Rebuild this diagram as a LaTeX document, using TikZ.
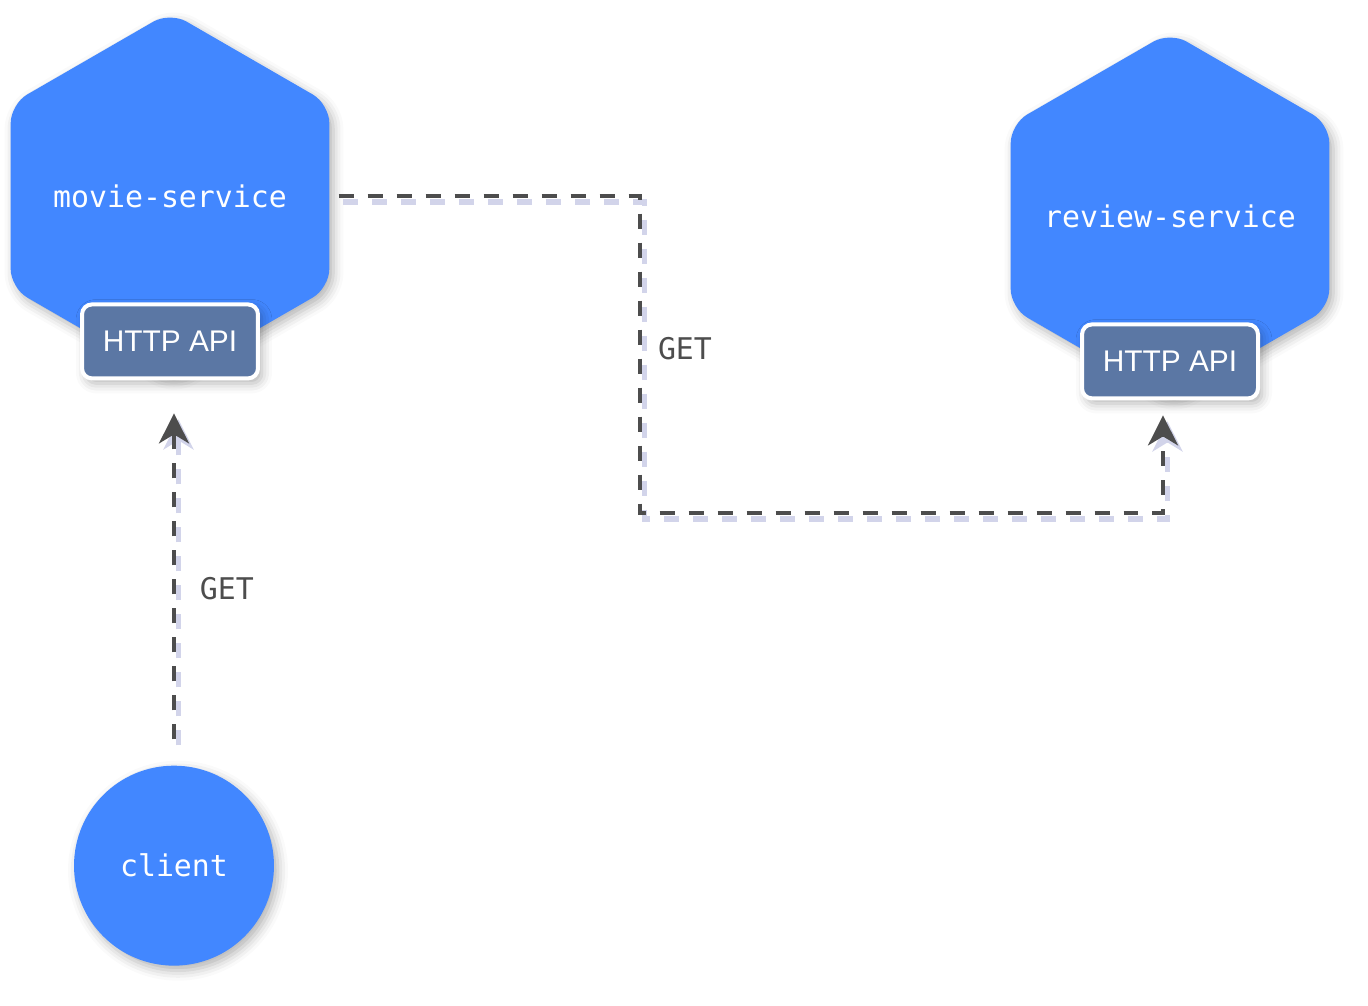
\documentclass[tikz,border=0pt]{standalone}
\usepackage{fontspec}
\setmainfont{Liberation Sans}
\setmonofont{DejaVu Sans Mono}
\usepackage{xcolor}
\usepackage{tikz}
\usetikzlibrary{positioning,shapes.geometric,arrows.meta,shadows.blur}
\definecolor{svcblue}{RGB}{66,135,255}
\definecolor{apiblue}{RGB}{91,119,164}
\definecolor{linegray}{RGB}{77,77,77}
\definecolor{shadegray}{RGB}{210,212,234}
\tikzstyle{service} = [regular polygon, regular polygon sides=6, shape border rotate=30, minimum size=7.36cm, inner sep=0pt, rounded corners=0.38cm, fill=svcblue, blur shadow={shadow xshift=0.08cm, shadow yshift=-0.1cm, shadow blur radius=0.2cm, shadow opacity=30}]
\tikzstyle{svcname} = [text=white, font=\ttfamily\fontsize{17}{20}\selectfont]
\tikzstyle{api} = [rectangle, rounded corners=0.2cm, fill=apiblue, draw=white, line width=0.08cm, minimum width=3.52cm, minimum height=1.48cm, text=white, font=\fontsize{17}{20}\selectfont, blur shadow={shadow xshift=0.08cm, shadow yshift=-0.1cm, shadow blur radius=0.2cm, shadow opacity=30}]
\tikzstyle{client} = [circle, minimum size=4cm, inner sep=0pt, fill=svcblue, text=white, font=\ttfamily\fontsize{17}{20}\selectfont, blur shadow={shadow xshift=0.08cm, shadow yshift=-0.1cm, shadow blur radius=0.2cm, shadow opacity=30}]
\tikzstyle{conn} = [draw=linegray, line width=0.08cm, dash pattern=on 0.3cm off 0.28cm, -{Stealth[length=0.6cm, width=0.6cm, inset=0.18cm]}]
\tikzstyle{connshade} = [conn, draw=shadegray, line width=0.11cm, transform canvas={shift={(0.09cm,-0.12cm)}}]
\tikzstyle{msg} = [text=linegray, inner sep=0pt, font=\ttfamily\fontsize{17}{20}\selectfont]

\begin{document}
\begin{tikzpicture}[x=0.02cm, y=-0.02cm]
		\useasboundingbox (0,0) rectangle (1368,1005);
		\node [service, label={[svcname]center:movie-service}] (movie) at (170,196) {};
		\node [service, label={[svcname]center:review-service}] (review) at (1170,216) {};
		\node [api, anchor=south] (movieapi) at (movie.south) {HTTP API};
		\node [api, anchor=south] (reviewapi) at (review.south) {HTTP API};
		\node [client, below=7.7cm of movieapi, xshift=0.08cm] (client) {client};
		\coordinate (turn) at (640,513);

		\draw [connshade, shorten <=0.52cm, shorten >=0.66cm] (client.north) -- (client.north |- movieapi.south);
		\draw [connshade, shorten <=0.18cm, shorten >=0.3cm] (movie.east) -| (turn) -| ([xshift=-0.14cm]reviewapi.south);
		\draw [conn, shorten <=0.52cm, shorten >=0.66cm] (client.north) -- node [msg, pos=0.46, right=0.48cm] {GET} (client.north |- movieapi.south);
		\draw [conn, shorten <=0.18cm, shorten >=0.3cm] (movie.east) -| node [msg, pos=0.74, right=0.32cm] {GET} (turn) -| ([xshift=-0.14cm]reviewapi.south);
	\end{tikzpicture}
\end{document}
